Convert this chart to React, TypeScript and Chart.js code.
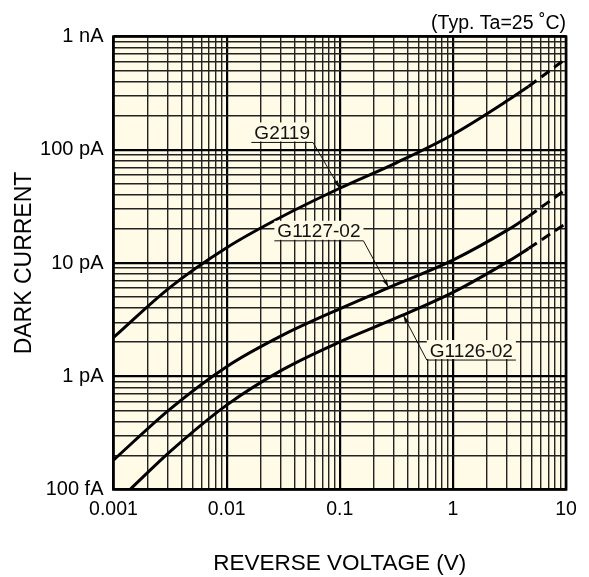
import React, { useEffect, useRef } from 'react';
import { Chart, registerables } from 'chart.js';

Chart.register(...registerables);

const FONT = '"Liberation Sans", Arial, Helvetica, sans-serif';
const CREAM = '#FFFBE6';

// Axis ticks (decades)
const xTickValues = [0.001, 0.01, 0.1, 1, 10];
const xTickLabels = ['0.001', '0.01', '0.1', '1', '10'];
const yTickValues = [1e-13, 1e-12, 1e-11, 1e-10, 1e-9];
const yTickLabels = ['100 fA', '1 pA', '10 pA', '100 pA', '1 nA'];

// G2119 (solid part)
const g2119X = [0.001, 0.00316, 0.01, 0.0316, 0.1, 0.316, 1, 3.16, 4.66];
const g2119Y = [2.2e-12, 6.1e-12, 1.365e-11, 2.6e-11, 4.57e-11, 7.67e-11, 1.365e-10, 2.79e-10, 3.62e-10];
// G2119 (dashed extension)
const g2119DashX = [4.66, 10];
const g2119DashY = [3.62e-10, 6.38e-10];

// G1127-02
const g1127X = [0.001, 0.00316, 0.01, 0.0316, 0.1, 0.316, 1, 3.16, 4.66];
const g1127Y = [1.82e-13, 5.13e-13, 1.216e-12, 2.32e-12, 3.94e-12, 6.46e-12, 1.06e-11, 2.0e-11, 2.58e-11];
const g1127DashX = [4.66, 10];
const g1127DashY = [2.58e-11, 4.47e-11];

// G1126-02
const g1126X = [0.0014, 0.00316, 0.01, 0.0316, 0.1, 0.316, 1, 3.16, 4.66];
const g1126Y = [1.0e-13, 2.16e-13, 5.56e-13, 1.15e-12, 2.01e-12, 3.27e-12, 5.5e-12, 1.05e-11, 1.34e-11];
const g1126DashX = [4.66, 10];
const g1126DashY = [1.34e-11, 2.24e-11];

// Callout labels (data coordinates)
const callouts = [
  { text: 'G2119', elbowX: 0.058, elbowY: 1.16e-10, tipX: 0.1, tipY: 4.57e-11, side: 'left' },
  { text: 'G1127-02', elbowX: 0.162, elbowY: 1.57e-11, tipX: 0.27, tipY: 6.1e-12, side: 'left' },
  { text: 'G1126-02', elbowX: 0.588, elbowY: 1.39e-12, tipX: 0.365, tipY: 3.45e-12, side: 'right' },
];

const pts = (xs: number[], ys: number[]) => xs.map((x, i) => ({ x, y: ys[i] }));

const gridTicks = (decades: number[]) => {
  const out: { value: number }[] = [];
  for (let i = 0; i < decades.length - 1; i++) {
    for (let k = 1; k <= 9; k++) out.push({ value: decades[i] * k });
  }
  out.push({ value: decades[decades.length - 1] });
  return out;
};

const isDecade = (v: number, decades: number[]) => decades.some((d) => Math.abs(v - d) / d < 1e-6);
const labelFor = (v: number, decades: number[], labels: string[]) => {
  const i = decades.findIndex((d) => Math.abs(v - d) / d < 1e-6);
  return i >= 0 ? labels[i] : '';
};

const bgPlugin = {
  id: 'plotBg',
  beforeDraw(chart: any) {
    const { ctx, chartArea } = chart;
    ctx.save();
    ctx.fillStyle = '#ffffff';
    ctx.fillRect(0, 0, chart.width, chart.height);
    ctx.fillStyle = CREAM;
    ctx.fillRect(chartArea.left, chartArea.top, chartArea.right - chartArea.left, chartArea.bottom - chartArea.top);
    ctx.restore();
  },
  beforeDatasetsDraw(chart: any) {
    const { ctx, chartArea } = chart;
    ctx.save();
    ctx.strokeStyle = '#000';
    ctx.lineWidth = 2.6;
    ctx.strokeRect(chartArea.left, chartArea.top, chartArea.right - chartArea.left, chartArea.bottom - chartArea.top);
    ctx.restore();
  },
};

const calloutPlugin = {
  id: 'callouts',
  afterDatasetsDraw(chart: any) {
    const { ctx } = chart;
    const xs = chart.scales.x;
    const ys = chart.scales.y;
    ctx.save();
    ctx.font = `19px ${FONT}`;
    for (const a of callouts) {
      const ex = xs.getPixelForValue(a.elbowX);
      const ey = ys.getPixelForValue(a.elbowY);
      const tx = xs.getPixelForValue(a.tipX);
      const ty = ys.getPixelForValue(a.tipY);
      const w = ctx.measureText(a.text).width + 6;
      const x0 = a.side === 'left' ? ex - w : ex;
      const x1 = x0 + w;
      ctx.fillStyle = CREAM;
      ctx.fillRect(x0, ey - 20, w, 19);
      ctx.fillStyle = '#111';
      ctx.textAlign = 'center';
      ctx.textBaseline = 'alphabetic';
      ctx.fillText(a.text, (x0 + x1) / 2, ey - 3.5);
      ctx.strokeStyle = '#111';
      ctx.lineWidth = 1;
      ctx.beginPath();
      ctx.moveTo(x0, ey);
      ctx.lineTo(x1, ey);
      ctx.moveTo(ex, ey);
      ctx.lineTo(tx, ty);
      ctx.stroke();
      const ang = Math.atan2(ty - ey, tx - ex);
      const L = 8;
      const H = 2.2;
      ctx.beginPath();
      ctx.moveTo(tx, ty);
      ctx.lineTo(tx - L * Math.cos(ang) + H * Math.sin(ang), ty - L * Math.sin(ang) - H * Math.cos(ang));
      ctx.lineTo(tx - L * Math.cos(ang) - H * Math.sin(ang), ty - L * Math.sin(ang) + H * Math.cos(ang));
      ctx.closePath();
      ctx.fill();
    }
    ctx.restore();
  },
};

const solid = (xs: number[], ys: number[]) => ({
  data: pts(xs, ys),
  borderColor: '#000',
  borderWidth: 3,
  pointRadius: 0,
  cubicInterpolationMode: 'monotone' as const,
  fill: false,
});
const dashed = (xs: number[], ys: number[]) => ({
  ...solid(xs, ys),
  borderDash: [10, 6],
});

export default function App() {
  const ref = useRef<HTMLCanvasElement | null>(null);
  useEffect(() => {
    if (!ref.current) return;
    const chart = new Chart(ref.current, {
      type: 'line',
      data: {
        datasets: [
          solid(g2119X, g2119Y),
          dashed(g2119DashX, g2119DashY),
          solid(g1127X, g1127Y),
          dashed(g1127DashX, g1127DashY),
          solid(g1126X, g1126Y),
          dashed(g1126DashX, g1126DashY),
        ] as any,
      },
      options: {
        animation: false,
        responsive: false,
        devicePixelRatio: 1,
        layout: { padding: { left: 0, right: 23, top: 0, bottom: 0 } },
        plugins: {
          legend: { display: false },
          tooltip: { enabled: false },
          title: {
            display: true,
            text: '(Typ. Ta=25 ˚C)',
            align: 'end',
            color: '#000',
            font: { family: FONT, size: 19.5, weight: 'normal' },
            padding: { top: 12, bottom: 1.1 },
          },
        },
        scales: {
          x: {
            type: 'logarithmic',
            min: 0.001,
            max: 10,
            afterFit: (s: any) => { s.height = 87.5; },
            afterBuildTicks: (s: any) => { s.ticks = gridTicks(xTickValues); },
            ticks: {
              autoSkip: false,
              maxRotation: 0,
              padding: 8,
              color: '#000',
              font: { family: FONT, size: 19.5 },
              callback: (v: any) => labelFor(Number(v), xTickValues, xTickLabels),
            },
            grid: {
              drawTicks: false,
              color: (c: any) => (isDecade(c.tick.value, xTickValues) ? '#000' : '#222'),
              lineWidth: (c: any) => (isDecade(c.tick.value, xTickValues) ? 2.2 : 1.4),
            },
            border: { display: false },
            title: {
              display: true,
              text: 'REVERSE VOLTAGE (V)',
              color: '#000',
              font: { family: FONT, size: 22.5 },
              padding: { top: 0, bottom: 0 },
            },
          },
          y: {
            type: 'logarithmic',
            min: 1e-13,
            max: 1e-9,
            afterFit: (s: any) => { s.width = 113.5; },
            afterBuildTicks: (s: any) => { s.ticks = gridTicks(yTickValues); },
            ticks: {
              autoSkip: false,
              padding: 10,
              color: '#000',
              font: { family: FONT, size: 20 },
              callback: (v: any) => labelFor(Number(v), yTickValues, yTickLabels),
            },
            grid: {
              drawTicks: false,
              color: (c: any) => (isDecade(c.tick.value, yTickValues) ? '#000' : '#222'),
              lineWidth: (c: any) => (isDecade(c.tick.value, yTickValues) ? 2.2 : 1.4),
            },
            border: { display: false },
            title: {
              display: true,
              text: 'DARK CURRENT',
              color: '#000',
              font: { family: FONT, size: 23 },
              padding: { top: 10.5, bottom: 0 },
            },
          },
        },
      } as any,
      plugins: [bgPlugin, calloutPlugin],
    });
    return () => chart.destroy();
  }, []);
  return (
    <div style={{ position: 'absolute', left: 0, top: 0, width: 589, height: 577, background: '#fff' }}>
      <canvas ref={ref} width={589} height={577} style={{ display: 'block', width: 589, height: 577 }} />
    </div>
  );
}
